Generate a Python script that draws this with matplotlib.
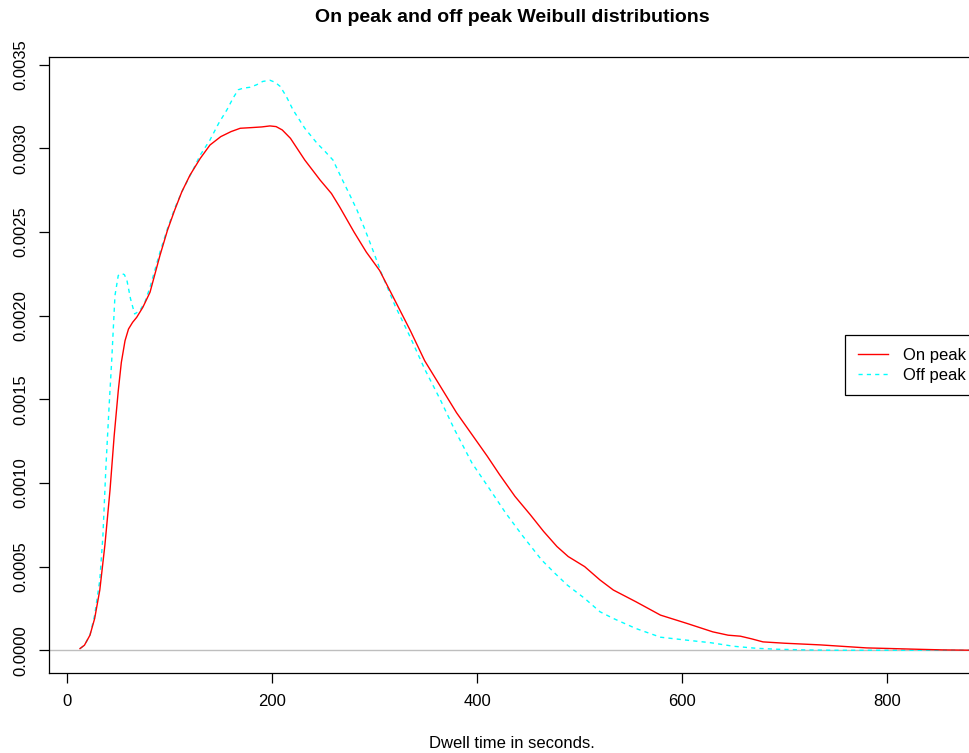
import matplotlib
matplotlib.use("Agg")
import matplotlib.pyplot as plt
from matplotlib.ticker import FixedLocator, FormatStrFormatter

plt.rcParams['font.family'] = ['Liberation Sans', 'DejaVu Sans']

# On peak density curve (x = dwell time in seconds, y = density)
on_x = [12.7, 17, 22.4, 27, 32, 37, 42, 46, 50, 53, 56.6, 60, 64, 68, 74, 81, 90.7, 98, 105, 112, 120,
        130, 139.5, 150, 160, 169, 180, 190, 198, 204, 210, 218, 232, 247, 258, 266, 280, 292, 305,
        320, 335, 349, 365, 380, 395, 410, 422, 437, 452, 465, 478, 489, 505, 520, 533, 555, 579, 605,
        630, 645, 657, 668, 679, 700, 735, 760, 780, 805, 829, 855, 886]
on_y = [0.00001, 0.00003, 0.00009, 0.00019, 0.00036, 0.00063, 0.00096, 0.00128, 0.00155, 0.00172,
        0.00185, 0.00192, 0.00196, 0.00199, 0.00205, 0.00214, 0.00236, 0.00251, 0.00263, 0.00274,
        0.00284, 0.00294, 0.00302, 0.00307, 0.00310, 0.00312, 0.003124, 0.003128, 0.003134, 0.00313,
        0.00311, 0.00306, 0.00293, 0.00281, 0.00273, 0.00265, 0.00250, 0.00238, 0.00227, 0.00209,
        0.00191, 0.00173, 0.00157, 0.00142, 0.00129, 0.00116, 0.00105, 0.00092, 0.00081, 0.00071,
        0.00062, 0.00056, 0.00050, 0.00042, 0.00036, 0.00029, 0.00021, 0.00016, 0.00011, 0.000090,
        0.000084, 0.000068, 0.000050, 0.000042, 0.000032, 0.000022, 0.000014, 0.000010, 0.000006,
        0.000002, 0.0]

# Off peak density curve
off_x = [12.7, 17, 22.4, 27, 32, 35, 38, 41, 43.6, 46.8, 50, 53.4, 56, 58.5, 62, 66, 71, 76, 81,
         90.7, 98, 105, 112, 122, 130, 139.5, 148, 156, 162, 167, 172, 178.5, 185, 191, 198, 203,
         208, 214, 220.5, 232, 244, 252, 259.5, 268, 276, 283, 291, 298.5, 307, 320, 335, 349, 364,
         378, 395, 412.7, 428, 445, 463, 476, 488, 505, 520, 533, 555, 579, 605, 628, 650, 672, 693,
         720, 747, 886]
off_y = [0.00001, 0.00003, 0.00009, 0.00021, 0.00042, 0.00068, 0.00110, 0.00145, 0.00173, 0.00212,
         0.00224, 0.002252, 0.002245, 0.00221, 0.00210, 0.00201, 0.00203, 0.00208, 0.00217, 0.00238,
         0.00252, 0.00264, 0.00274, 0.00286, 0.00296, 0.00305, 0.00315, 0.00323, 0.00330, 0.00335,
         0.00336, 0.003365, 0.00338, 0.00340, 0.003407, 0.003395, 0.00337, 0.00331, 0.00323, 0.00312,
         0.00303, 0.00298, 0.00293, 0.00282, 0.00272, 0.00263, 0.00251, 0.00239, 0.00225, 0.00206,
         0.00187, 0.00168, 0.00150, 0.00132, 0.00112, 0.00096, 0.00082, 0.00068, 0.00054, 0.00046,
         0.00039, 0.00031, 0.00023, 0.00019, 0.00013, 0.000078, 0.00006, 0.000045, 0.000024,
         0.000012, 0.000006, 0.000002, 0.0, 0.0]

x_ticks = [0, 200, 400, 600, 800]
y_ticks = [0.0, 0.0005, 0.0010, 0.0015, 0.0020, 0.0025, 0.0030, 0.0035]
series_labels = ["On peak", "Off peak"]

W, H = 969, 753
fig = plt.figure(figsize=(W / 100, H / 100), dpi=100)

# axes box (pixels): left 49, top 57, bottom 673, right just past the image edge
left_px, right_px, top_px, bot_px = 49, 975, 57, 673
ax = fig.add_axes([left_px / W, 1 - bot_px / H, (right_px - left_px) / W, (bot_px - top_px) / H])

x0 = (left_px - 67) / 1.025
x1 = (right_px - 67) / 1.025
ax.set_xlim(x0, x1)
ax.set_ylim(-0.000136, 0.003546)

ax.axhline(0, color='#bebebe', lw=1.0, zorder=1)
l1, = ax.plot(on_x, on_y, color='#ff0000', lw=1.0, zorder=3)
l2, = ax.plot(off_x, off_y, color='#00ffff', lw=1.0, ls=(0, (3, 3)), zorder=2)

for s in ax.spines.values():
    s.set_linewidth(0.9)
    s.set_color('black')

ax.xaxis.set_major_locator(FixedLocator(x_ticks))
ax.yaxis.set_major_locator(FixedLocator(y_ticks))
ax.yaxis.set_major_formatter(FormatStrFormatter('%.4f'))
ax.tick_params(axis='both', direction='out', length=7, width=0.9, labelsize=12, colors='black')
ax.tick_params(axis='x', pad=8)
ax.tick_params(axis='y', pad=8)
for lab in ax.get_yticklabels():
    lab.set_rotation(90)
    lab.set_va('center')

cx = ((left_px + right_px) / 2) / W
fig.text(cx, 1 - 18 / H, "On peak and off peak Weibull distributions",
         ha='center', va='center', fontsize=14, fontweight='bold')
fig.text(cx, 1 - 743 / H, "Dwell time in seconds.", ha='center', va='center', fontsize=12)

leg = fig.legend([l1, l2], series_labels, loc='upper left',
                 bbox_to_anchor=(845 / W, 1 - 335 / H), fontsize=12,
                 frameon=True, fancybox=False, edgecolor='black', framealpha=1,
                 handlelength=1.8, handletextpad=0.95, borderpad=0.75, labelspacing=0.3,
                 borderaxespad=0)
leg.get_frame().set_linewidth(0.9)

fig.savefig("out.png", dpi=100)
